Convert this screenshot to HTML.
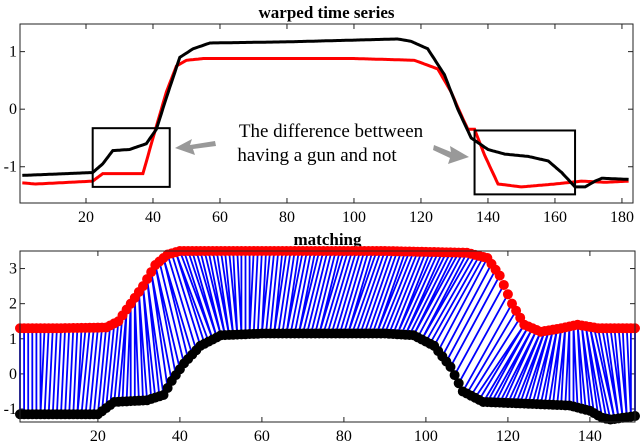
<!DOCTYPE html>
<html><head><meta charset="utf-8"><style>
html,body{margin:0;padding:0;background:#fff;width:640px;height:446px;overflow:hidden}
svg{display:block;font-family:"Liberation Serif",serif}
</style></head><body>
<svg id="c" width="640" height="446"></svg>
<script>
// ---------- data: top panel ----------
const topBlackX=[1,10,22,25,28,33,38,41,44,48,52,57,80,100,113,117,122,127,131,135,140,145,152,158,162,166,169,172,174,182];
const topBlackY=[-1.15,-1.13,-1.1,-0.95,-0.72,-0.7,-0.6,-0.35,0.2,0.9,1.05,1.15,1.17,1.2,1.22,1.18,1.05,0.6,0,-0.5,-0.7,-0.78,-0.82,-0.9,-1.1,-1.35,-1.35,-1.25,-1.2,-1.22];
const topRedX=[1,5,22,25,37,40,44,47,50,55,100,118,125,129,132,134,136,139,143,150,160,168,175,182];
const topRedY=[-1.28,-1.3,-1.25,-1.12,-1.12,-0.5,0.3,0.75,0.85,0.88,0.88,0.85,0.7,0.3,-0.1,-0.35,-0.35,-0.8,-1.3,-1.35,-1.3,-1.25,-1.27,-1.25];
const topXTicks=[20,40,60,80,100,120,140,160,180];
const topYTicks=[-1,0,1];
const boxes=[[22,45,-0.33,-1.35],[136,166,-0.37,-1.48]];
// ---------- data: bottom panel ----------
const botRedX=[1,10,22,25,28,31,34,37,40,60,90,110,115,118,121,124,128,133,137,142,151];
const botRedY=[1.3,1.3,1.32,1.5,2,2.5,3.1,3.4,3.5,3.5,3.5,3.45,3.3,2.8,2,1.4,1.2,1.3,1.4,1.3,1.3];
const botBlackX=[1,10,20,24,32,36,38,41,45,50,60,90,97,102,106,109,114,125,135,140,143,145,148,151];
const botBlackY=[-1.15,-1.15,-1.15,-0.8,-0.75,-0.6,-0.2,0.3,0.8,1.1,1.15,1.15,1.1,0.8,0.2,-0.5,-0.8,-0.85,-0.9,-1.05,-1.25,-1.3,-1.25,-1.2];
// warping correspondences (red index -> black index)
const warpRed=[1,22,26,34,40,55,75,100,112,118,124,130,140,151];
const warpBlack=[1,20,24,40,48,55,70,92,100,106,112,125,145,151];
const botXTicks=[20,40,60,80,100,120,140];
const botYTicks=[-1,0,1,2,3];

const NS="http://www.w3.org/2000/svg";
const svg=document.getElementById('c');
function el(t,a,p){const e=document.createElementNS(NS,t);for(const k in a)e.setAttribute(k,a[k]);(p||svg).appendChild(e);return e;}
function interp(xs,ys,x){if(x<=xs[0])return ys[0];for(let i=1;i<xs.length;i++){if(x<=xs[i]){const t=(x-xs[i-1])/(xs[i]-xs[i-1]);return ys[i-1]+t*(ys[i]-ys[i-1]);}}return ys[ys.length-1];}

function axes(L,R,T,B,x0,x1,y0,y1,xt,yt,title,name){
  const g=el('g',{});
  
  
  const sx=v=>L+(v-x0)/(x1-x0)*(R-L), sy=v=>B-(v-y0)/(y1-y0)*(B-T);
  const tt=el('text',{x:(L+R)/2,y:T-6,'text-anchor':'middle','font-size':17,'font-weight':'bold'},g);tt.textContent=title;
  
  
  xt.forEach(v=>{const x=sx(v);el('line',{x1:x,x2:x,y1:B,y2:B-5,stroke:'#222'},g);el('line',{x1:x,x2:x,y1:T,y2:T+5,stroke:'#222'},g);
    const t=el('text',{x:x,y:B+19,'text-anchor':'middle','font-size':16},g);t.textContent=v;
    
    });
  yt.forEach(v=>{const y=sy(v);el('line',{x1:L,x2:L+5,y1:y,y2:y,stroke:'#222'},g);el('line',{x1:R,x2:R-5,y1:y,y2:y,stroke:'#222'},g);
    const t=el('text',{x:L-3,y:y+5,'text-anchor':'end','font-size':16},g);t.textContent=v;
    
    });
  return {g,sx,sy,frame:()=>el('rect',{x:L,y:T,width:R-L,height:B-T,fill:'none',stroke:'#222','stroke-width':1},g)};
}
function pathD(xs,ys,sx,sy){let d='';for(let x=xs[0];x<=xs[xs.length-1];x+=0.5){d+=(d?'L':'M')+sx(x).toFixed(1)+','+sy(interp(xs,ys,x)).toFixed(1);}return d;}

// top panel
const A=axes(20,633,24,203,0.3,183.3,-1.63,1.48,topXTicks,topYTicks,'warped time series','top-chart');
const pr=el('path',{d:pathD(topRedX,topRedY,A.sx,A.sy),fill:'none',stroke:'#f00','stroke-width':3},A.g);


const pb=el('path',{d:pathD(topBlackX,topBlackY,A.sx,A.sy),fill:'none',stroke:'#000','stroke-width':3},A.g);


boxes.forEach(b=>{const r=el('rect',{x:A.sx(b[0]),y:A.sy(b[2]),width:A.sx(b[1])-A.sx(b[0]),height:A.sy(b[3])-A.sy(b[2]),fill:'none',stroke:'#000','stroke-width':2},A.g);
  
  });
const ann=el('text',{x:331,y:137,'text-anchor':'middle','font-size':19},A.g);ann.textContent='The difference bettween';


const ann2=el('text',{x:317,y:161,'text-anchor':'middle','font-size':19},A.g);ann2.textContent='having a gun and not';


const a1=el('path',{d:'M215,141 L190,145 L192,139 L175,148 L195,155 L193,149 L216,146 Z',fill:'#999'},A.g);


const a2=el('path',{d:'M434,145 L451,152 L450,146 L469,157 L448,164 L450,158 L433,150 Z',fill:'#999'},A.g);


A.frame();

// bottom panel
const B=axes(20,635,251,422,1,151,-1.37,3.5,botXTicks,botYTicks,'matching','bottom-chart');
const N=151,red=[],blk=[];
for(let i=1;i<=N;i++){red.push(interp(botRedX,botRedY,i));blk.push(interp(botBlackX,botBlackY,i));}
let md='';
function seg(ri,bj){md+='M'+B.sx(ri).toFixed(1)+','+B.sy(interp(botRedX,botRedY,ri)).toFixed(1)+'L'+B.sx(bj).toFixed(1)+','+B.sy(interp(botBlackX,botBlackY,bj)).toFixed(1);}
for(let r=1;r<=N;r++){seg(r,Math.round(interp(warpRed,warpBlack,r)));}
for(let b=1;b<=N;b++){seg(Math.round(interp(warpBlack,warpRed,b)),b);}
const ml=el('path',{d:md,stroke:'#00f','stroke-width':1.8,fill:'none'},B.g);


const gr=el('g',{fill:'#f00',stroke:'#f00'},B.g);


red.forEach((v,k)=>el('circle',{cx:B.sx(k+1),cy:B.sy(v),r:4.5},gr));
const gb=el('g',{fill:'#000',stroke:'#000'},B.g);


blk.forEach((v,k)=>el('circle',{cx:B.sx(k+1),cy:B.sy(v),r:4.5},gb));
B.frame();
</script>
</body></html>
